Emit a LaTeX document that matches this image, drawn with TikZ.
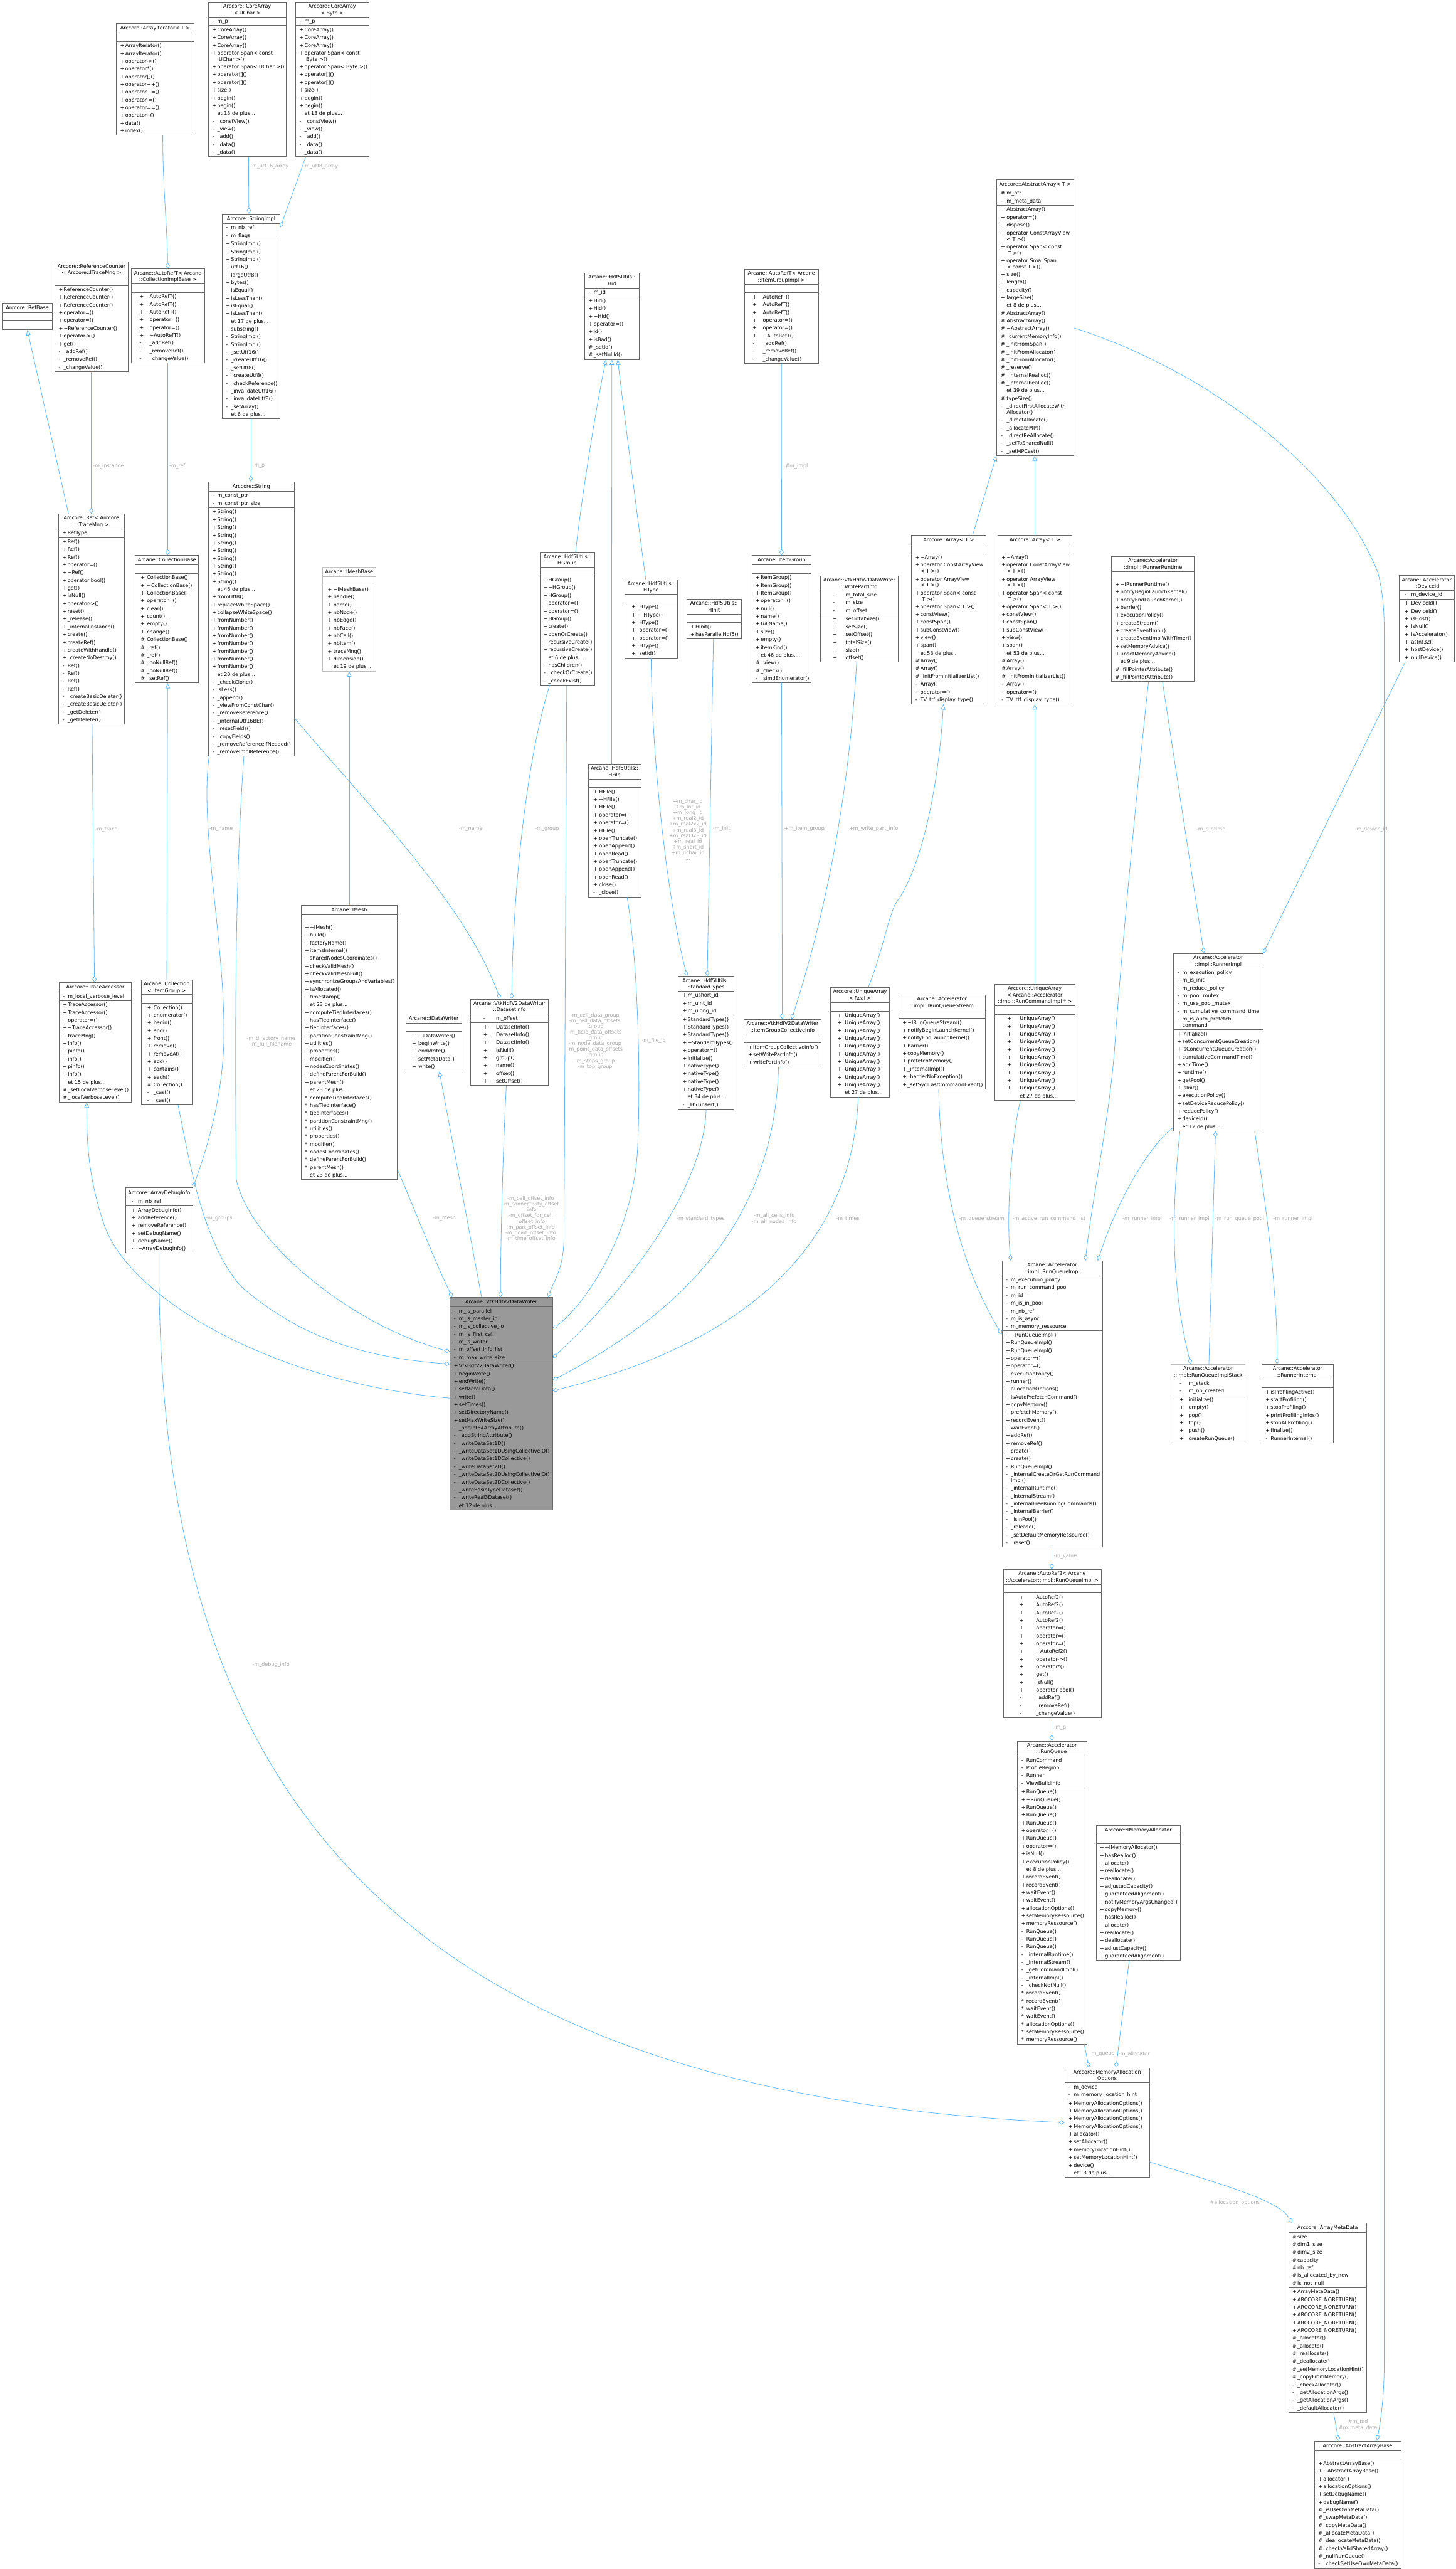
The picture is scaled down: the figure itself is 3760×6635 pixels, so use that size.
\documentclass[tikz,border=0pt]{standalone}
\usepackage{fontspec}
\newfontfamily\cf{DejaVu Sans}
\usetikzlibrary{shapes.multipart,arrows.meta}
\definecolor{eblue}{HTML}{63B8FF}
\definecolor{lgray}{HTML}{A8A8A8}
\definecolor{bgray}{HTML}{666666}
\definecolor{lborder}{HTML}{BFBFBF}
\definecolor{mfill}{HTML}{999999}
\newlength\sxa \newlength\sxb \newlength\bwd
\setlength\sxa{10pt}\setlength\sxb{23pt}
\newcommand\SymAt[2]{\setlength\sxa{#1pt}\setlength\sxb{#2pt}}
\newcommand\stM{\rule[-5.5pt]{0pt}{20pt}}
\newcommand\Bx[1]{\vbox{\hsize=\bwd\baselineskip=0pt\lineskip=0pt\lineskiplimit=0pt\relax#1}}
\newcommand\TlA[1]{\hbox to\hsize{\hss#1\hss\rule[-6.5pt]{0pt}{22pt}}}
\newcommand\TlB[2]{\hbox to\hsize{\hss#1\hss\rule[-4pt]{0pt}{18pt}}\hbox to\hsize{\hss#2\hss\rule[-5pt]{0pt}{18pt}}}
\newcommand\TlC[3]{\hbox to\hsize{\hss#1\hss\rule[-4pt]{0pt}{17.5pt}}\hbox to\hsize{\hss#2\hss\rule[-4pt]{0pt}{17.5pt}}\hbox to\hsize{\hss#3\hss\rule[-5pt]{0pt}{17.5pt}}}
\newcommand\Mm[2]{\hbox to\hsize{\hskip\sxa\hbox to\dimexpr\sxb-\sxa\relax{#1\hss}#2\hss\stM}}
\newcommand\Mw[3]{\hbox to\hsize{\hskip\sxa\hbox to\dimexpr\sxb-\sxa\relax{#1\hss}#2\hss\rule[-3pt]{0pt}{18pt}}\hbox to\hsize{\hskip\sxb#3\hss\rule[-5pt]{0pt}{18pt}}}
\newcommand\Em{\hbox to\hsize{\stM\hss}}
\newcommand\tl{\textasciitilde}
\newcommand\ClassNode[8][]{\setlength\bwd{#5pt}\node[cls,#1] (#2) at (#3,#4) {\Bx{#6}\nodepart{two}\Bx{#7}\nodepart{three}\Bx{#8}};\SymAt{10}{23}}
\tikzset{
  cls/.style={rectangle split, rectangle split parts=3, draw=bgray, line width=1.2pt, fill=white, inner xsep=0pt, inner ysep=0.5pt, anchor=north west, font=\cf\fontsize{13pt}{15pt}\selectfont, text=black},
  light/.style={draw=lborder},
  mainc/.style={fill=mfill},
  edge/.style={draw=eblue, line width=1.3pt},
  agg/.style={edge, -{Diamond[open, length=16pt, width=11pt]}},
  inh/.style={edge, -{Triangle[open, length=14pt, width=12pt]}},
  lbl/.style={font=\cf\fontsize{13pt}{14.8pt}\selectfont, text=lgray, inner sep=0pt, align=center}
}
\begin{document}
\catcode`\_=12
\begin{tikzpicture}[x=1pt,y=-1pt]
\fill[white] (0,0) rectangle (3760,6635);
\useasboundingbox (0,0) rectangle (3760,6635);

% ---------- rank 0 ----------
\ClassNode{TLT}{300}{60}{200}{\TlA{Arccore::ArrayIterator< T >}}{\Em}{\Mm{+}{ArrayIterator()}\Mm{+}{ArrayIterator()}\Mm{+}{operator->()}\Mm{+}{operator*()}\Mm{+}{operator[]()}\Mm{+}{operator++()}\Mm{+}{operator+=()}\Mm{+}{operator-=()}\Mm{+}{operator==()}\Mm{+}{operator--()}\Mm{+}{data()}\Mm{+}{index()}}
\ClassNode{CAU}{538}{5}{200}{\TlB{Arccore::CoreArray}{< UChar >}}{\Mm{-}{m_p}}{\Mm{+}{CoreArray()}\Mm{+}{CoreArray()}\Mm{+}{CoreArray()}\Mw{+}{operator Span< const}{ UChar >()}\Mm{+}{operator Span< UChar >()}\Mm{+}{operator[]()}\Mm{+}{operator[]()}\Mm{+}{size()}\Mm{+}{begin()}\Mm{+}{begin()}\Mm{}{et 13 de plus...}\Mm{-}{_constView()}\Mm{-}{_view()}\Mm{-}{_add()}\Mm{-}{_data()}\Mm{-}{_data()}}
\ClassNode{CAB}{763}{5}{189}{\TlB{Arccore::CoreArray}{< Byte >}}{\Mm{-}{m_p}}{\Mm{+}{CoreArray()}\Mm{+}{CoreArray()}\Mm{+}{CoreArray()}\Mw{+}{operator Span< const}{ Byte >()}\Mm{+}{operator Span< Byte >()}\Mm{+}{operator[]()}\Mm{+}{operator[]()}\Mm{+}{size()}\Mm{+}{begin()}\Mm{+}{begin()}\Mm{}{et 13 de plus...}\Mm{-}{_constView()}\Mm{-}{_view()}\Mm{-}{_add()}\Mm{-}{_data()}\Mm{-}{_data()}}

% ---------- rank 1 ----------
\ClassNode{RFB}{5}{782}{130}{\TlA{Arccore::RefBase}}{\Em}{\Em}
\ClassNode{REFW}{141}{676}{190}{\TlB{Arccore::ReferenceCounter}{< Arccore::ITraceMng >}}{\Em}{\Mm{+}{ReferenceCounter()}\Mm{+}{ReferenceCounter()}\Mm{+}{ReferenceCounter()}\Mm{+}{operator=()}\Mm{+}{operator=()}\Mm{+}{\tl ReferenceCounter()}\Mm{+}{operator->()}\Mm{+}{get()}\Mm{-}{_addRef()}\Mm{-}{_removeRef()}\Mm{-}{_changeValue()}}
\SymAt{22}{48}
\ClassNode{ARCI}{338}{694}{190}{\TlB{Arcane::AutoRefT< Arcane}{::CollectionImplBase >}}{\Em}{\Mm{+}{AutoRefT()}\Mm{+}{AutoRefT()}\Mm{+}{AutoRefT()}\Mm{+}{operator=()}\Mm{+}{operator=()}\Mm{+}{\tl AutoRefT()}\Mm{-}{_addRef()}\Mm{-}{_removeRef()}\Mm{-}{_changeValue()}}
\ClassNode{SI}{573}{552}{150}{\TlA{Arccore::StringImpl}}{\Mm{-}{m_nb_ref}\Mm{-}{m_flags}}{\Mm{+}{StringImpl()}\Mm{+}{StringImpl()}\Mm{+}{StringImpl()}\Mm{+}{utf16()}\Mm{+}{largeUtf8()}\Mm{+}{bytes()}\Mm{+}{isEqual()}\Mm{+}{isLessThan()}\Mm{+}{isEqual()}\Mm{+}{isLessThan()}\Mm{}{et 17 de plus...}\Mm{+}{substring()}\Mm{-}{StringImpl()}\Mm{-}{StringImpl()}\Mm{-}{_setUtf16()}\Mm{-}{_createUtf16()}\Mm{-}{_setUtf8()}\Mm{-}{_createUtf8()}\Mm{-}{_checkReference()}\Mm{-}{_invalidateUtf16()}\Mm{-}{_invalidateUtf8()}\Mm{-}{_setArray()}\Mm{}{et 6 de plus...}}
\ClassNode{HID}{1510}{705}{140}{\TlB{Arcane::Hdf5Utils::}{Hid}}{\Mm{-}{m_id}}{\Mm{+}{Hid()}\Mm{+}{Hid()}\Mm{+}{\tl Hid()}\Mm{+}{operator=()}\Mm{+}{id()}\Mm{+}{isBad()}\Mm{\#}{_setId()}\Mm{\#}{_setNullId()}}
\SymAt{22}{48}
\ClassNode{ARIG}{1922}{695}{192}{\TlB{Arcane::AutoRefT< Arcane}{::ItemGroupImpl >}}{\Em}{\Mm{+}{AutoRefT()}\Mm{+}{AutoRefT()}\Mm{+}{AutoRefT()}\Mm{+}{operator=()}\Mm{+}{operator=()}\Mm{+}{\tl AutoRefT()}\Mm{-}{_addRef()}\Mm{-}{_removeRef()}\Mm{-}{_changeValue()}}
\SymAt{11}{26}
\ClassNode{AA}{2574}{463}{199}{\TlA{Arccore::AbstractArray< T >}}{\Mm{\#}{m_ptr}\Mm{-}{m_meta_data}}{\Mm{+}{AbstractArray()}\Mm{+}{operator=()}\Mm{+}{dispose()}\Mw{+}{operator ConstArrayView}{< T >()}\Mw{+}{operator Span< const}{ T >()}\Mw{+}{operator SmallSpan}{< const T >()}\Mm{+}{size()}\Mm{+}{length()}\Mm{+}{capacity()}\Mm{+}{largeSize()}\Mm{}{et 8 de plus...}\Mm{\#}{AbstractArray()}\Mm{\#}{AbstractArray()}\Mm{\#}{\tl AbstractArray()}\Mm{\#}{_currentMemoryInfo()}\Mm{\#}{_initFromSpan()}\Mm{\#}{_initFromAllocator()}\Mm{\#}{_initFromAllocator()}\Mm{\#}{_reserve()}\Mm{\#}{_internalRealloc()}\Mm{\#}{_internalRealloc()}\Mm{}{et 39 de plus...}\Mm{\#}{typeSize()}\Mw{-}{_directFirstAllocateWith}{Allocator()}\Mm{-}{_directAllocate()}\Mm{-}{_allocateMP()}\Mm{-}{_directReAllocate()}\Mm{-}{_setToSharedNull()}\Mm{-}{_setMPCast()}}

% ---------- rank 2 ----------
\ClassNode{STR}{538}{1244}{221}{\TlA{Arccore::String}}{\Mm{-}{m_const_ptr}\Mm{-}{m_const_ptr_size}}{\Mm{+}{String()}\Mm{+}{String()}\Mm{+}{String()}\Mm{+}{String()}\Mm{+}{String()}\Mm{+}{String()}\Mm{+}{String()}\Mm{+}{String()}\Mm{+}{String()}\Mm{+}{String()}\Mm{}{et 46 de plus...}\Mm{+}{fromUtf8()}\Mm{+}{replaceWhiteSpace()}\Mm{+}{collapseWhiteSpace()}\Mm{+}{fromNumber()}\Mm{+}{fromNumber()}\Mm{+}{fromNumber()}\Mm{+}{fromNumber()}\Mm{+}{fromNumber()}\Mm{+}{fromNumber()}\Mm{+}{fromNumber()}\Mm{}{et 20 de plus...}\Mm{-}{_checkClone()}\Mm{-}{isLess()}\Mm{-}{_append()}\Mm{-}{_viewFromConstChar()}\Mm{-}{_removeReference()}\Mm{-}{_internalUtf16BE()}\Mm{-}{_resetFields()}\Mm{-}{_copyFields()}\Mm{-}{_removeReferenceIfNeeded()}\Mm{-}{_removeImplReference()}}
\ClassNode{REFTM}{151}{1327}{169}{\TlB{Arccore::Ref< Arccore}{::ITraceMng >}}{\Mm{+}{RefType}}{\Mm{+}{Ref()}\Mm{+}{Ref()}\Mm{+}{Ref()}\Mm{+}{operator=()}\Mm{+}{\tl Ref()}\Mm{+}{operator bool()}\Mm{+}{get()}\Mm{+}{isNull()}\Mm{+}{operator->()}\Mm{+}{reset()}\Mm{+}{_release()}\Mm{+}{_internalInstance()}\Mm{+}{create()}\Mm{+}{createRef()}\Mm{+}{createWithHandle()}\Mm{+}{_createNoDestroy()}\Mm{-}{Ref()}\Mm{-}{Ref()}\Mm{-}{Ref()}\Mm{-}{Ref()}\Mm{-}{_createBasicDeleter()}\Mm{-}{_createBasicDeleter()}\Mm{-}{_getDeleter()}\Mm{-}{_getDeleter()}}
\SymAt{14}{30}
\ClassNode{CB}{349}{1434}{163}{\TlA{Arcane::CollectionBase}}{\Em}{\Mm{+}{CollectionBase()}\Mm{+}{\tl CollectionBase()}\Mm{+}{CollectionBase()}\Mm{+}{operator=()}\Mm{+}{clear()}\Mm{+}{count()}\Mm{+}{empty()}\Mm{+}{change()}\Mm{\#}{CollectionBase()}\Mm{\#}{_ref()}\Mm{\#}{_ref()}\Mm{\#}{_noNullRef()}\Mm{\#}{_noNullRef()}\Mm{\#}{_setRef()}}
\SymAt{14}{29}
\ClassNode[light]{IMB}{832}{1464}{139}{\TlA{Arcane::IMeshBase}}{\Em}{\Mm{+}{\tl IMeshBase()}\Mm{+}{handle()}\Mm{+}{name()}\Mm{+}{nbNode()}\Mm{+}{nbEdge()}\Mm{+}{nbFace()}\Mm{+}{nbCell()}\Mm{+}{nbItem()}\Mm{+}{traceMng()}\Mm{+}{dimension()}\Mm{}{et 19 de plus...}}
\SymAt{10}{22}
\ClassNode{HG}{1394}{1426}{141}{\TlB{Arcane::Hdf5Utils::}{HGroup}}{\Em}{\Mm{+}{HGroup()}\Mm{+}{\tl HGroup()}\Mm{+}{HGroup()}\Mm{+}{operator=()}\Mm{+}{operator=()}\Mm{+}{HGroup()}\Mm{+}{create()}\Mm{+}{openOrCreate()}\Mm{+}{recursiveCreate()}\Mm{+}{recursiveCreate()}\Mm{}{et 6 de plus...}\Mm{+}{hasChildren()}\Mm{-}{_checkOrCreate()}\Mm{-}{_checkExist()}}
\SymAt{18}{38}
\ClassNode{HT}{1613}{1496}{137}{\TlB{Arcane::Hdf5Utils::}{HType}}{\Em}{\Mm{+}{HType()}\Mm{+}{\tl HType()}\Mm{+}{HType()}\Mm{+}{operator=()}\Mm{+}{operator=()}\Mm{+}{HType()}\Mm{+}{setId()}}
\ClassNode{HI}{1773}{1547}{142}{\TlB{Arcane::Hdf5Utils::}{HInit}}{\Em}{\Mm{+}{HInit()}\Mm{+}{hasParallelHdf5()}}
\ClassNode{IG}{1942}{1434}{153}{\TlA{Arcane::ItemGroup}}{\Em}{\Mm{+}{ItemGroup()}\Mm{+}{ItemGroup()}\Mm{+}{ItemGroup()}\Mm{+}{operator=()}\Mm{+}{null()}\Mm{+}{name()}\Mm{+}{fullName()}\Mm{+}{size()}\Mm{+}{empty()}\Mm{+}{itemKind()}\Mm{}{et 46 de plus...}\Mm{\#}{_view()}\Mm{\#}{_check()}\Mm{-}{_simdEnumerator()}}
\SymAt{32}{65}
\ClassNode{WPI}{2119}{1487}{201}{\TlB{Arcane::VtkHdfV2DataWriter}{::WritePartInfo}}{\Mm{-}{m_total_size}\Mm{-}{m_size}\Mm{-}{m_offset}}{\Mm{+}{setTotalSize()}\Mm{+}{setSize()}\Mm{+}{setOffset()}\Mm{+}{totalSize()}\Mm{+}{size()}\Mm{+}{offset()}}
\ClassNode{ARRA}{2354}{1381}{192}{\TlA{Arccore::Array< T >}}{\Em}{\Mm{+}{\tl Array()}\Mw{+}{operator ConstArrayView}{< T >()}\Mw{+}{operator ArrayView}{< T >()}\Mw{+}{operator Span< const}{ T >()}\Mm{+}{operator Span< T >()}\Mm{+}{constView()}\Mm{+}{constSpan()}\Mm{+}{subConstView()}\Mm{+}{view()}\Mm{+}{span()}\Mm{}{et 53 de plus...}\Mm{\#}{Array()}\Mm{\#}{Array()}\Mm{\#}{_initFromInitializerList()}\Mm{-}{Array()}\Mm{-}{operator=()}\Mm{-}{TV_ttf_display_type()}}
\ClassNode{ARRB}{2577}{1381}{192}{\TlA{Arccore::Array< T >}}{\Em}{\Mm{+}{\tl Array()}\Mw{+}{operator ConstArrayView}{< T >()}\Mw{+}{operator ArrayView}{< T >()}\Mw{+}{operator Span< const}{ T >()}\Mm{+}{operator Span< T >()}\Mm{+}{constView()}\Mm{+}{constSpan()}\Mm{+}{subConstView()}\Mm{+}{view()}\Mm{+}{span()}\Mm{}{et 53 de plus...}\Mm{\#}{Array()}\Mm{\#}{Array()}\Mm{\#}{_initFromInitializerList()}\Mm{-}{Array()}\Mm{-}{operator=()}\Mm{-}{TV_ttf_display_type()}}
\ClassNode{IRR}{2871}{1437}{214}{\TlB{Arcane::Accelerator}{::impl::IRunnerRuntime}}{\Em}{\Mm{+}{\tl IRunnerRuntime()}\Mm{+}{notifyBeginLaunchKernel()}\Mm{+}{notifyEndLaunchKernel()}\Mm{+}{barrier()}\Mm{+}{executionPolicy()}\Mm{+}{createStream()}\Mm{+}{createEventImpl()}\Mm{+}{createEventImplWithTimer()}\Mm{+}{setMemoryAdvice()}\Mm{+}{unsetMemoryAdvice()}\Mm{}{et 9 de plus...}\Mm{\#}{_fillPointerAttribute()}\Mm{\#}{_fillPointerAttribute()}}
\SymAt{14}{31}
\ClassNode{DEV}{3614}{1486}{142}{\TlB{Arcane::Accelerator}{::DeviceId}}{\Mm{-}{m_device_id}}{\Mm{+}{DeviceId()}\Mm{+}{DeviceId()}\Mm{+}{isHost()}\Mm{+}{isNull()}\Mm{+}{isAccelerator()}\Mm{+}{asInt32()}\Mm{+}{hostDevice()}\Mm{+}{nullDevice()}}

% ---------- rank 3 ----------
\SymAt{13}{28}
\ClassNode{HF}{1519}{1973}{136}{\TlB{Arcane::Hdf5Utils::}{HFile}}{\Em}{\Mm{+}{HFile()}\Mm{+}{\tl HFile()}\Mm{+}{HFile()}\Mm{+}{operator=()}\Mm{+}{operator=()}\Mm{+}{HFile()}\Mm{+}{openTruncate()}\Mm{+}{openAppend()}\Mm{+}{openRead()}\Mm{+}{openTruncate()}\Mm{+}{openAppend()}\Mm{+}{openRead()}\Mm{+}{close()}\Mm{-}{_close()}}
\ClassNode{IM}{777}{2337}{249}{\TlA{Arcane::IMesh}}{\Em}{\Mm{+}{\tl IMesh()}\Mm{+}{build()}\Mm{+}{factoryName()}\Mm{+}{itemsInternal()}\Mm{+}{sharedNodesCoordinates()}\Mm{+}{checkValidMesh()}\Mm{+}{checkValidMeshFull()}\Mm{+}{synchronizeGroupsAndVariables()}\Mm{+}{isAllocated()}\Mm{+}{timestamp()}\Mm{}{et 23 de plus...}\Mm{+}{computeTiedInterfaces()}\Mm{+}{hasTiedInterface()}\Mm{+}{tiedInterfaces()}\Mm{+}{partitionConstraintMng()}\Mm{+}{utilities()}\Mm{+}{properties()}\Mm{+}{modifier()}\Mm{+}{nodesCoordinates()}\Mm{+}{defineParentForBuild()}\Mm{+}{parentMesh()}\Mm{}{et 23 de plus...}\Mm{*}{computeTiedInterfaces()}\Mm{*}{hasTiedInterface()}\Mm{*}{tiedInterfaces()}\Mm{*}{partitionConstraintMng()}\Mm{*}{utilities()}\Mm{*}{properties()}\Mm{*}{modifier()}\Mm{*}{nodesCoordinates()}\Mm{*}{defineParentForBuild()}\Mm{*}{parentMesh()}\Mm{}{et 23 de plus...}}
\ClassNode{TA}{152}{2537}{187}{\TlA{Arccore::TraceAccessor}}{\Mm{-}{m_local_verbose_level}}{\Mm{+}{TraceAccessor()}\Mm{+}{TraceAccessor()}\Mm{+}{operator=()}\Mm{+}{\tl TraceAccessor()}\Mm{+}{traceMng()}\Mm{+}{info()}\Mm{+}{pinfo()}\Mm{+}{info()}\Mm{+}{pinfo()}\Mm{+}{info()}\Mm{}{et 15 de plus...}\Mm{\#}{_setLocalVerboseLevel()}\Mm{\#}{_localVerboseLevel()}}
\SymAt{16}{32}
\ClassNode{CIG}{364}{2530}{132}{\TlB{Arcane::Collection}{< ItemGroup >}}{\Em}{\Mm{+}{Collection()}\Mm{+}{enumerator()}\Mm{+}{begin()}\Mm{+}{end()}\Mm{+}{front()}\Mm{+}{remove()}\Mm{+}{removeAt()}\Mm{+}{add()}\Mm{+}{contains()}\Mm{+}{each()}\Mm{\#}{Collection()}\Mm{-}{_cast()}\Mm{-}{_cast()}}
\SymAt{16}{32}
\ClassNode{IDW}{1048}{2617}{144}{\TlA{Arcane::IDataWriter}}{\Em}{\Mm{+}{\tl IDataWriter()}\Mm{+}{beginWrite()}\Mm{+}{endWrite()}\Mm{+}{setMetaData()}\Mm{+}{write()}}
\SymAt{33}{66}
\ClassNode{DSI}{1215}{2580}{201}{\TlB{Arcane::VtkHdfV2DataWriter}{::DatasetInfo}}{\Mm{-}{m_offset}}{\Mm{+}{DatasetInfo()}\Mm{+}{DatasetInfo()}\Mm{+}{DatasetInfo()}\Mm{+}{isNull()}\Mm{+}{group()}\Mm{+}{name()}\Mm{+}{offset()}\Mm{+}{setOffset()}}
\SymAt{12}{25}
\ClassNode{ST}{1751}{2521}{145}{\TlB{Arcane::Hdf5Utils::}{StandardTypes}}{\Mm{+}{m_ushort_id}\Mm{+}{m_uint_id}\Mm{+}{m_ulong_id}}{\Mm{+}{StandardTypes()}\Mm{+}{StandardTypes()}\Mm{+}{StandardTypes()}\Mm{+}{\tl StandardTypes()}\Mm{+}{operator=()}\Mm{+}{initialize()}\Mm{+}{nativeType()}\Mm{+}{nativeType()}\Mm{+}{nativeType()}\Mm{+}{nativeType()}\Mm{}{et 34 de plus...}\Mm{-}{_H5Tinsert()}}
\SymAt{11}{24}
\ClassNode{IGCI}{1921}{2632}{200}{\TlB{Arcane::VtkHdfV2DataWriter}{::ItemGroupCollectiveInfo}}{\Em}{\Mm{+}{ItemGroupCollectiveInfo()}\Mm{+}{setWritePartInfo()}\Mm{+}{writePartInfo()}}
\SymAt{18}{37}
\ClassNode{UAR}{2145}{2550}{152}{\TlB{Arccore::UniqueArray}{< Real >}}{\Em}{\Mm{+}{UniqueArray()}\Mm{+}{UniqueArray()}\Mm{+}{UniqueArray()}\Mm{+}{UniqueArray()}\Mm{+}{UniqueArray()}\Mm{+}{UniqueArray()}\Mm{+}{UniqueArray()}\Mm{+}{UniqueArray()}\Mm{+}{UniqueArray()}\Mm{+}{UniqueArray()}\Mm{}{et 27 de plus...}}
\ClassNode{IRQS}{2321}{2569}{224}{\TlB{Arcane::Accelerator}{::impl::IRunQueueStream}}{\Em}{\Mm{+}{\tl IRunQueueStream()}\Mm{+}{notifyBeginLaunchKernel()}\Mm{+}{notifyEndLaunchKernel()}\Mm{+}{barrier()}\Mm{+}{copyMemory()}\Mm{+}{prefetchMemory()}\Mm{+}{_internalImpl()}\Mm{+}{_barrierNoException()}\Mm{+}{_setSyclLastCommandEvent()}}
\SymAt{32}{65}
\ClassNode{UARC}{2569}{2542}{207}{\TlC{Arccore::UniqueArray}{< Arcane::Accelerator}{::impl::RunCommandImpl * >}}{\Em}{\Mm{+}{UniqueArray()}\Mm{+}{UniqueArray()}\Mm{+}{UniqueArray()}\Mm{+}{UniqueArray()}\Mm{+}{UniqueArray()}\Mm{+}{UniqueArray()}\Mm{+}{UniqueArray()}\Mm{+}{UniqueArray()}\Mm{+}{UniqueArray()}\Mm{+}{UniqueArray()}\Mm{}{et 27 de plus...}}
\ClassNode{RI}{3031}{2462}{231}{\TlB{Arcane::Accelerator}{::impl::RunnerImpl}}{\Mm{-}{m_execution_policy}\Mm{-}{m_is_init}\Mm{-}{m_reduce_policy}\Mm{-}{m_pool_mutex}\Mm{-}{m_use_pool_mutex}\Mm{-}{m_cumulative_command_time}\Mw{-}{m_is_auto_prefetch}{command}}{\Mm{+}{initialize()}\Mm{+}{setConcurrentQueueCreation()}\Mm{+}{isConcurrentQueueCreation()}\Mm{+}{cumulativeCommandTime()}\Mm{+}{addTime()}\Mm{+}{runtime()}\Mm{+}{getPool()}\Mm{+}{isInit()}\Mm{+}{executionPolicy()}\Mm{+}{setDeviceReducePolicy()}\Mm{+}{reducePolicy()}\Mm{+}{deviceId()}\Mm{}{et 12 de plus...}}

% ---------- rank 3.5 / 4 ----------
\ClassNode[mainc]{MAIN}{1162}{3350}{265}{\TlA{Arcane::VtkHdfV2DataWriter}}{\Mm{-}{m_is_parallel}\Mm{-}{m_is_master_io}\Mm{-}{m_is_collective_io}\Mm{-}{m_is_first_call}\Mm{-}{m_is_writer}\Mm{-}{m_offset_info_list}\Mm{-}{m_max_write_size}}{\Mm{+}{VtkHdfV2DataWriter()}\Mm{+}{beginWrite()}\Mm{+}{endWrite()}\Mm{+}{setMetaData()}\Mm{+}{write()}\Mm{+}{setTimes()}\Mm{+}{setDirectoryName()}\Mm{+}{setMaxWriteSize()}\Mm{-}{_addInt64ArrayAttribute()}\Mm{-}{_addStringAttribute()}\Mm{-}{_writeDataSet1D()}\Mm{-}{_writeDataSet1DUsingCollectiveIO()}\Mm{-}{_writeDataSet1DCollective()}\Mm{-}{_writeDataSet2D()}\Mm{-}{_writeDataSet2DUsingCollectiveIO()}\Mm{-}{_writeDataSet2DCollective()}\Mm{-}{_writeBasicTypeDataset()}\Mm{-}{_writeReal3Dataset()}\Mm{}{et 12 de plus...}}
\SymAt{15}{32}
\ClassNode{ADI}{324}{3067}{173}{\TlA{Arccore::ArrayDebugInfo}}{\Mm{-}{m_nb_ref}}{\Mm{+}{ArrayDebugInfo()}\Mm{+}{addReference()}\Mm{+}{removeReference()}\Mm{+}{setDebugName()}\Mm{+}{debugName()}\Mm{-}{\tl ArrayDebugInfo()}}
\ClassNode{RQI}{2588}{3256}{259}{\TlB{Arcane::Accelerator}{::impl::RunQueueImpl}}{\Mm{-}{m_execution_policy}\Mm{-}{m_run_command_pool}\Mm{-}{m_id}\Mm{-}{m_is_in_pool}\Mm{-}{m_nb_ref}\Mm{-}{m_is_async}\Mm{-}{m_memory_ressource}}{\Mm{+}{\tl RunQueueImpl()}\Mm{+}{RunQueueImpl()}\Mm{+}{RunQueueImpl()}\Mm{+}{operator=()}\Mm{+}{operator=()}\Mm{+}{executionPolicy()}\Mm{+}{runner()}\Mm{+}{allocationOptions()}\Mm{+}{isAutoPrefetchCommand()}\Mm{+}{copyMemory()}\Mm{+}{prefetchMemory()}\Mm{+}{recordEvent()}\Mm{+}{waitEvent()}\Mm{+}{addRef()}\Mm{+}{removeRef()}\Mm{+}{create()}\Mm{+}{create()}\Mm{-}{RunQueueImpl()}\Mw{-}{_internalCreateOrGetRunCommand}{Impl()}\Mm{-}{_internalRuntime()}\Mm{-}{_internalStream()}\Mm{-}{_internalFreeRunningCommands()}\Mm{-}{_internalBarrier()}\Mm{-}{_isInPool()}\Mm{-}{_release()}\Mm{-}{_setDefaultMemoryRessource()}\Mm{-}{_reset()}}
\SymAt{22}{45}
\ClassNode[light]{RQIS}{3025}{3523}{191}{\TlB{Arcane::Accelerator}{::impl::RunQueueImplStack}}{\Mm{-}{m_stack}\Mm{-}{m_nb_created}}{\Mm{+}{initialize()}\Mm{+}{empty()}\Mm{+}{pop()}\Mm{+}{top()}\Mm{+}{push()}\Mm{+}{createRunQueue()}}
\ClassNode{RIN}{3259}{3523}{185}{\TlB{Arcane::Accelerator}{::RunnerInternal}}{\Em}{\Mm{+}{isProfilingActive()}\Mm{+}{startProfiling()}\Mm{+}{stopProfiling()}\Mm{+}{printProfilingInfos()}\Mm{+}{stopAllProfiling()}\Mm{+}{finalize()}\Mm{-}{RunnerInternal()}}
\SymAt{42}{85}
\ClassNode{ARRQ}{2591}{4053}{253}{\TlB{Arcane::AutoRef2< Arcane}{::Accelerator::impl::RunQueueImpl >}}{\Em}{\Mm{+}{AutoRef2()}\Mm{+}{AutoRef2()}\Mm{+}{AutoRef2()}\Mm{+}{AutoRef2()}\Mm{+}{operator=()}\Mm{+}{operator=()}\Mm{+}{operator=()}\Mm{+}{\tl AutoRef2()}\Mm{+}{operator->()}\Mm{+}{operator*()}\Mm{+}{get()}\Mm{+}{isNull()}\Mm{+}{operator bool()}\Mm{-}{_addRef()}\Mm{-}{_removeRef()}\Mm{-}{_changeValue()}}
\SymAt{11}{24}
\ClassNode{RQ}{2627}{4496}{180}{\TlB{Arcane::Accelerator}{::RunQueue}}{\Mm{-}{RunCommand}\Mm{-}{ProfileRegion}\Mm{-}{Runner}\Mm{-}{ViewBuildInfo}}{\Mm{+}{RunQueue()}\Mm{+}{\tl RunQueue()}\Mm{+}{RunQueue()}\Mm{+}{RunQueue()}\Mm{+}{RunQueue()}\Mm{+}{operator=()}\Mm{+}{RunQueue()}\Mm{+}{operator=()}\Mm{+}{isNull()}\Mm{+}{executionPolicy()}\Mm{}{et 8 de plus...}\Mm{+}{recordEvent()}\Mm{+}{recordEvent()}\Mm{+}{waitEvent()}\Mm{+}{waitEvent()}\Mm{+}{allocationOptions()}\Mm{+}{setMemoryRessource()}\Mm{+}{memoryRessource()}\Mm{-}{RunQueue()}\Mm{-}{RunQueue()}\Mm{-}{RunQueue()}\Mm{-}{_internalRuntime()}\Mm{-}{_internalStream()}\Mm{-}{_getCommandImpl()}\Mm{-}{_internalImpl()}\Mm{-}{_checkNotNull()}\Mm{*}{recordEvent()}\Mm{*}{recordEvent()}\Mm{*}{waitEvent()}\Mm{*}{waitEvent()}\Mm{*}{allocationOptions()}\Mm{*}{setMemoryRessource()}\Mm{*}{memoryRessource()}}
\ClassNode{IMA}{2831}{4714}{218}{\TlA{Arccore::IMemoryAllocator}}{\Em}{\Mm{+}{\tl IMemoryAllocator()}\Mm{+}{hasRealloc()}\Mm{+}{allocate()}\Mm{+}{reallocate()}\Mm{+}{deallocate()}\Mm{+}{adjustedCapacity()}\Mm{+}{guaranteedAlignment()}\Mm{+}{notifyMemoryArgsChanged()}\Mm{+}{copyMemory()}\Mm{+}{hasRealloc()}\Mm{+}{allocate()}\Mm{+}{reallocate()}\Mm{+}{deallocate()}\Mm{+}{adjustCapacity()}\Mm{+}{guaranteedAlignment()}}
\ClassNode{MAO}{2750}{5340}{219}{\TlB{Arccore::MemoryAllocation}{Options}}{\Mm{-}{m_device}\Mm{-}{m_memory_location_hint}}{\Mm{+}{MemoryAllocationOptions()}\Mm{+}{MemoryAllocationOptions()}\Mm{+}{MemoryAllocationOptions()}\Mm{+}{MemoryAllocationOptions()}\Mm{+}{allocator()}\Mm{+}{setAllocator()}\Mm{+}{memoryLocationHint()}\Mm{+}{setMemoryLocationHint()}\Mm{+}{device()}\Mm{}{et 13 de plus...}}
\ClassNode{AMD}{3328}{5741}{202}{\TlA{Arccore::ArrayMetaData}}{\Mm{\#}{size}\Mm{\#}{dim1_size}\Mm{\#}{dim2_size}\Mm{\#}{capacity}\Mm{\#}{nb_ref}\Mm{\#}{is_allocated_by_new}\Mm{\#}{is_not_null}}{\Mm{+}{ArrayMetaData()}\Mm{+}{ARCCORE_NORETURN()}\Mm{+}{ARCCORE_NORETURN()}\Mm{+}{ARCCORE_NORETURN()}\Mm{+}{ARCCORE_NORETURN()}\Mm{+}{ARCCORE_NORETURN()}\Mm{\#}{_allocator()}\Mm{\#}{_allocate()}\Mm{\#}{_reallocate()}\Mm{\#}{_deallocate()}\Mm{\#}{_setMemoryLocationHint()}\Mm{\#}{_copyFromMemory()}\Mm{-}{_checkAllocator()}\Mm{-}{_getAllocationArgs()}\Mm{-}{_getAllocationArgs()}\Mm{-}{_defaultAllocator()}}
\ClassNode{AAB}{3395}{6304}{223}{\TlA{Arccore::AbstractArrayBase}}{\Em}{\Mm{+}{AbstractArrayBase()}\Mm{+}{\tl AbstractArrayBase()}\Mm{+}{allocator()}\Mm{+}{allocationOptions()}\Mm{+}{setDebugName()}\Mm{+}{debugName()}\Mm{\#}{_isUseOwnMetaData()}\Mm{\#}{_swapMetaData()}\Mm{\#}{_copyMetaData()}\Mm{\#}{_allocateMetaData()}\Mm{\#}{_deallocateMetaData()}\Mm{\#}{_checkValidSharedArray()}\Mm{\#}{_nullRunQueue()}\Mm{-}{_checkSetUseOwnMetaData()}}

% ---------- connectors ----------
\draw[agg] ([xshift=20pt]TLT.south) .. controls (420,480) and (433,600) .. ([xshift=95pt]ARCI.north west);
\draw[agg] ([xshift=104pt]CAU.south west) -- ([xshift=70pt]SI.north west);
\node[lbl] (l1) at (696,430) {-m_utf16_array};
\draw[agg] ([xshift=27pt]CAB.south west) -- ([yshift=-35pt]SI.north east);
\node[lbl] (l2) at (828,430) {-m_utf8_array};
\draw[agg] ([xshift=75pt]SI.south west) -- ([xshift=110pt]STR.north west);
\node[lbl] (l3) at (668,1204) {-m_p};
\draw[agg] ([xshift=95pt]ARCI.south west) -- ([xshift=84pt]CB.north west);
\node[lbl] (l4) at (458,1204) {-m_ref};
\draw[agg] ([xshift=95pt]REFW.south west) -- ([xshift=85pt]REFTM.north west);
\node[lbl] (l5) at (280,1204) {-m_instance};
\draw[inh] ([xshift=26pt]REFTM.north west) -- (RFB.south);
\draw[inh] ([xshift=93pt]HG.north west) .. controls (1500,1300) and (1540,1050) .. ([xshift=-15pt]HID.south);
\draw[inh] ([xshift=61pt]HF.north west) -- (HID.south);
\draw[inh] ([xshift=55pt]HT.north west) .. controls (1650,1360) and (1610,1050) .. ([xshift=15pt]HID.south);
\draw[agg] (ARIG.south) -- (IG.north);
\node[lbl] (l32) at (2058,1204) {\#m_impl};
\draw[agg] ([xshift=87pt]REFTM.south west) -- ([xshift=92pt]TA.north west);
\node[lbl] (l6) at (275,2142) {-m_trace};
\draw[inh] ([xshift=67pt]CIG.north west) -- ([xshift=84pt]CB.south west);
\draw[inh] (IM.north) -- (IMB.south);
\draw[agg] ([yshift=25pt]IM.south east) .. controls (1070,3120) and (1120,3250) .. ([xshift=6pt]MAIN.north west);
\node[lbl] (l7) at (1148,3147) {-m_mesh};
\draw[inh] ([xshift=82pt]MAIN.north west) -- ([xshift=87pt]IDW.south west);
\draw[agg] ([xshift=93pt]DSI.south west) .. controls (1300,2950) and (1293,3200) .. ([xshift=131pt]MAIN.north west);
\node[lbl] (l8) at (1371,3148) {-m_cell_offset_info\\-m_connectivity_offset\\_info\\-m_offset_for_cell\\_offset_info\\-m_part_offset_info\\-m_point_offset_info\\-m_time_offset_info};
\draw[agg] ([yshift=100pt]STR.south east) .. controls (950,2080) and (1200,2330) .. ([xshift=77pt]DSI.north west);
\node[lbl] (l9) at (1216,2142) {-m_name};
\draw[agg] ([xshift=26pt]HG.south west) .. controls (1360,1960) and (1325,2300) .. ([xshift=107pt]DSI.north west);
\node[lbl] (l10) at (1413,2142) {-m_group};
\draw[agg] ([xshift=70pt]HG.south west) -- (1457,3200) .. controls (1455,3280) and (1430,3310) .. ([xshift=254pt]MAIN.north west);
\node[lbl] (l11) at (1537,2689) {-m_cell_data_group\\-m_cell_data_offsets\\_group\\-m_field_data_offsets\\_group\\-m_node_data_group\\-m_point_data_offsets\\_group\\-m_steps_group\\-m_top_group};
\draw[agg] ([xshift=101pt]HF.south west) .. controls (1650,2500) and (1655,2800) .. (1647,2968) .. controls (1635,3200) and (1500,3380) .. ([yshift=-81pt]MAIN.north east);
\node[lbl] (l12) at (1689,2688) {-m_file_id};
\draw[agg] ([xshift=69pt]HT.south west) .. controls (1685,2000) and (1730,2350) .. ([xshift=24pt]ST.north west);
\node[lbl] (l13) at (1777,2143) {+m_char_id\\+m_int_id\\+m_long_id\\+m_real2_id\\+m_real2x2_id\\+m_real3_id\\+m_real3x3_id\\+m_real_id\\+m_short_id\\+m_uchar_id\\...};
\draw[agg] ([xshift=70pt]HI.south west) -- ([xshift=76pt]ST.north west);
\node[lbl] (l14) at (1864,2141) {-m_init};
\draw[agg] (IG.south) -- ([xshift=100pt]IGCI.north west);
\node[lbl] (l15) at (2078,2141) {+m_item_group};
\draw[agg] ([xshift=94pt]WPI.south west) .. controls (2190,2100) and (2120,2400) .. ([xshift=124pt]IGCI.north west);
\node[lbl] (l16) at (2257,2141) {+m_write_part_info};
\draw[inh] ([xshift=159pt]ARRA.north west) -- (AA.south west);
\draw[inh] ([xshift=96pt]ARRB.north west) -- ([xshift=99pt]AA.south west);
\draw[inh] ([xshift=98pt]UAR.north west) .. controls (2280,2460) and (2300,2340) .. (2322,2322) .. controls (2400,2200) and (2430,1950) .. ([xshift=83pt]ARRA.south west);
\draw[inh] ([xshift=104pt]UARC.north west) -- ([xshift=96pt]ARRB.south west);
\draw[agg] ([xshift=132pt]IRR.south west) -- ([xshift=79pt]RI.north west);
\node[lbl] (l17) at (3128,2142) {-m_runtime};
\draw[agg] ([xshift=16pt]DEV.south west) -- (RI.north east);
\node[lbl] (l18) at (3542,2142) {-m_device_id};
\draw[inh] ([yshift=-384pt]AA.north east) .. controls (3100,950) and (3450,1200) .. (3560,1480) .. controls (3574,1540) and (3576,1580) .. (3576,1650) -- (3576,6094) .. controls (3576,6200) and (3565,6260) .. ([xshift=162pt]AAB.north west);
\draw[agg] ([xshift=96pt]IRR.south west) .. controls (2930,2100) and (2890,2550) .. (2880,2700) .. controls (2865,2900) and (2820,3100) .. ([xshift=216pt]RQI.north west);
\draw[agg] ([xshift=104pt]IRQS.south west) .. controls (2430,3100) and (2500,3300) .. ([yshift=-190pt]RQI.north west);
\node[lbl] (l19) at (2536,3148) {-m_queue_stream};
\draw[agg] ([xshift=67pt]UARC.south west) .. controls (2610,2950) and (2600,3150) .. ([xshift=23pt]RQI.north west);
\node[lbl] (l20) at (2710,3148) {-m_active_run_command_list};
\draw[agg] ([yshift=10pt]RI.south west) .. controls (2990,2940) and (2900,3060) .. ([xshift=248pt]RQI.north west);
\node[lbl] (l21) at (2951,3148) {-m_runner_impl};
\draw[agg] ([xshift=17pt]RI.south west) .. controls (3030,3100) and (3020,3300) .. ([xshift=51pt]RQIS.north west);
\node[lbl] (l22) at (3073,3148) {-m_runner_impl};
\draw[agg] ([xshift=98pt]RQIS.north west) -- ([xshift=109pt]RI.south west);
\node[lbl] (l23) at (3202,3148) {-m_run_queue_pool};
\draw[agg] ([xshift=-22pt]RI.south east) .. controls (3260,3050) and (3300,3300) .. ([xshift=40pt]RIN.north west);
\node[lbl] (l33) at (3340,3148) {-m_runner_impl};
\draw[agg] ([xshift=129pt]RQI.south west) -- ([xshift=126pt]ARRQ.north west);
\node[lbl] (l24) at (2752,4019) {-m_value};
\draw[agg] ([xshift=126pt]ARRQ.south west) -- ([xshift=90pt]RQ.north west);
\node[lbl] (l25) at (2738,4463) {-m_p};
\draw[agg] ([xshift=174pt]RQ.south west) -- ([xshift=63pt]MAO.north west);
\node[lbl] (l26) at (2847,5306) {-m_queue};
\draw[agg] ([xshift=86pt]IMA.south west) -- ([xshift=133pt]MAO.north west);
\node[lbl] (l27) at (2930,5306) {-m_allocator};
\draw[agg] ([yshift=40pt]MAO.south east) .. controls (3150,5640) and (3300,5680) .. ([xshift=10pt]AMD.north west);
\node[lbl] (l34) at (3190,5690) {\#allocation_options};
\draw[agg] ([xshift=117pt]AMD.south west) -- ([xshift=63pt]AAB.north west);
\node[lbl] (l28) at (3508,6263) {\#m_md\\\#m_meta_data};
\draw[agg] (ADI.south) .. controls (400,4500) and (900,5400) .. (MAO.west);
\node[lbl] (l35) at (700,4300) {-m_debug_info};
\draw[agg] ([xshift=2pt]STR.south west) .. controls (515,2150) and (585,2450) .. (578,2700) .. controls (572,2850) and (530,2980) .. (ADI.north east);
\node[lbl] (l29) at (571,2142) {-m_name};
\draw[agg] ([xshift=92pt]STR.south west) .. controls (605,2300) and (608,2700) .. (610,3044) .. controls (640,3200) and (900,3420) .. ([yshift=-141pt]MAIN.north west);
\node[lbl] (l30) at (700,2690) {-m_directory_name\\-m_full_filename};
\draw[agg] ([xshift=96pt]CIG.south west) .. controls (490,3000) and (520,3200) .. (620,3320) .. controls (800,3480) and (1000,3510) .. ([yshift=-173pt]MAIN.north west);
\node[lbl] (l31) at (566,3148) {-m_groups};
\draw[agg] (ST.south) .. controls (1820,3050) and (1650,3300) .. ([yshift=-157pt]MAIN.north east);
\node[lbl] (l36) at (1810,3148) {-m_standard_types};
\draw[agg] ([xshift=90pt]IGCI.south west) .. controls (2000,3200) and (1700,3420) .. ([yshift=-215pt]MAIN.north east);
\node[lbl] (l37) at (2000,3148) {-m_all_cells_info\\-m_all_nodes_info};
\draw[agg] ([xshift=72pt]UAR.south west) .. controls (2200,3300) and (1800,3500) .. ([yshift=-242pt]MAIN.north east);
\node[lbl] (l38) at (2190,3148) {-m_times};
\draw[inh] ([yshift=-261pt]MAIN.north west) .. controls (700,3570) and (330,3350) .. (268,3160) .. controls (228,3040) and (224,2950) .. ([xshift=72pt]TA.south west);
\end{tikzpicture}
\end{document}
